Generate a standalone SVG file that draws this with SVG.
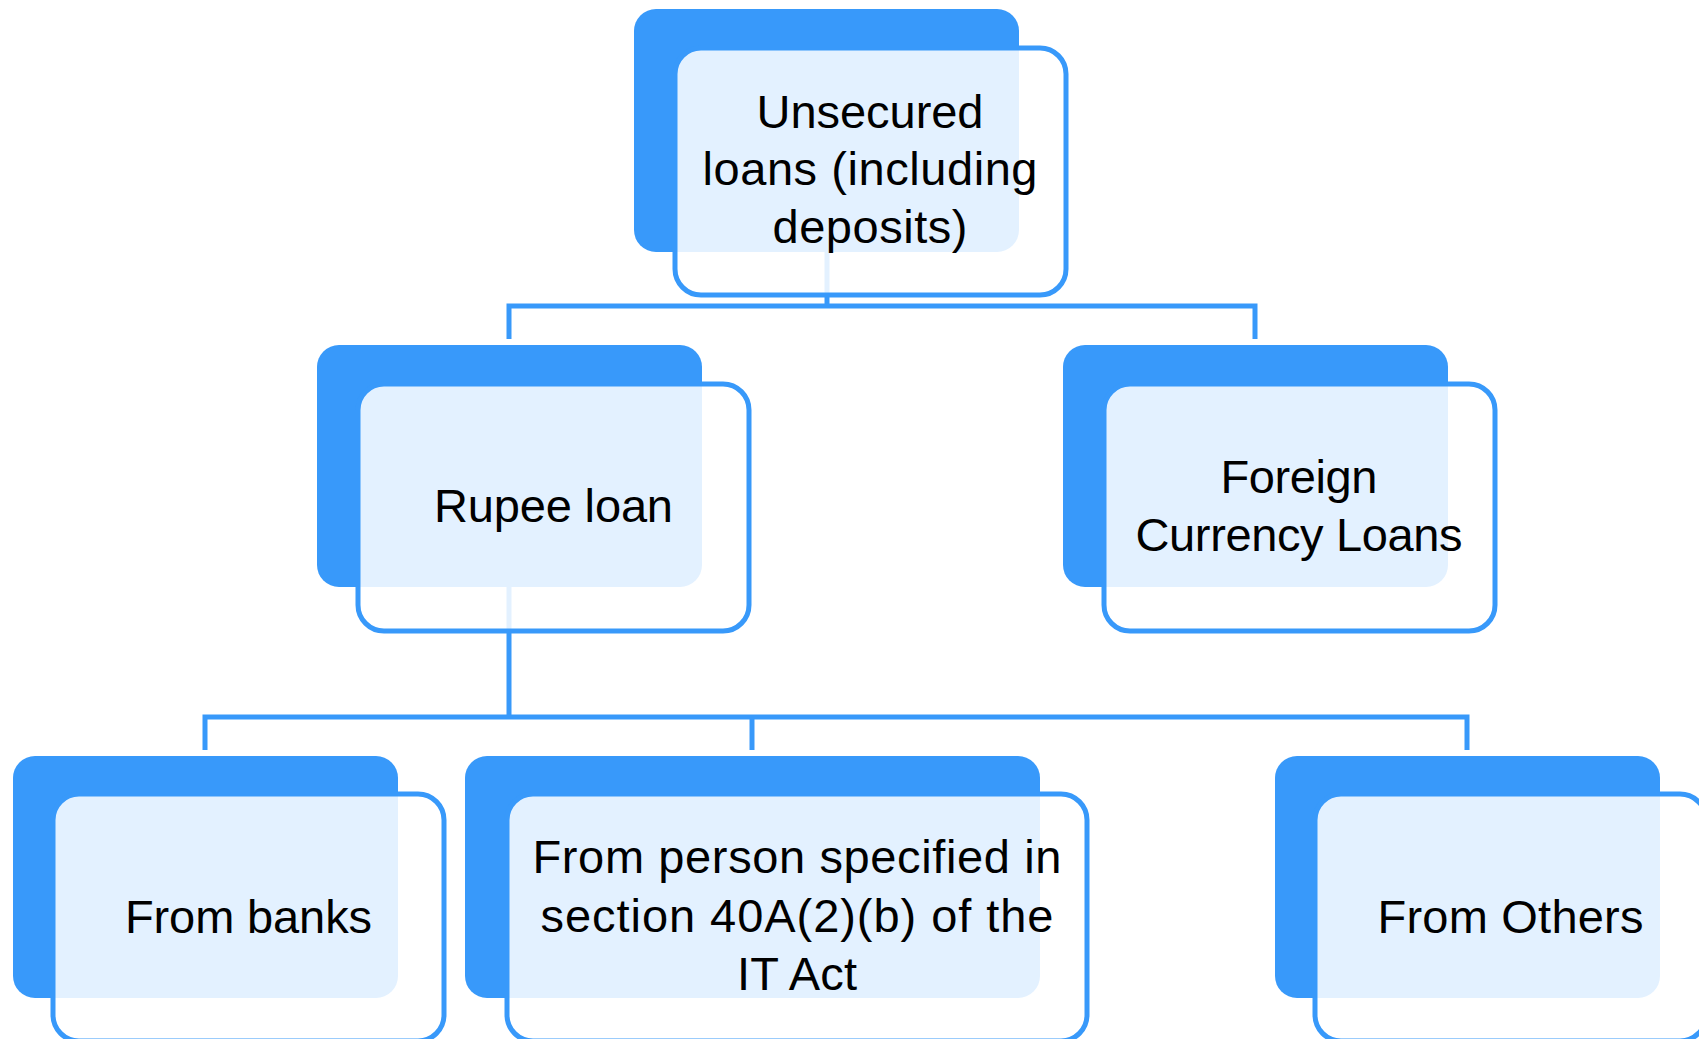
<svg xmlns="http://www.w3.org/2000/svg" width="1699" height="1039" viewBox="0 0 1699 1039">
<style>
.back{fill:#3899FA;}
.front{fill:#FFFFFF;fill-opacity:0.86;stroke:#3899FA;stroke-width:5;}
.conn{fill:none;stroke:#3899FA;stroke-width:5;stroke-linejoin:miter;}
.lbl{font-family:"Liberation Sans",Arial,sans-serif;font-size:47px;fill:#000;text-anchor:middle;}
</style>
<rect width="1699" height="1039" fill="#FFFFFF"/>
<g id="connectors">
<path class="conn" d="M827,252 V306"/>
<path class="conn" d="M509,339 V306 H1255 V339"/>
<path class="conn" d="M509,587 V717"/>
<path class="conn" d="M205,750 V717 H1467 V750"/>
<path class="conn" d="M752,717 V750"/>
</g>
<g id="node-unsecured">
<rect class="back" x="634" y="9" width="385" height="243" rx="22"/>
<rect class="front" x="675" y="48" width="391" height="247" rx="26"/>
<text class="lbl"><tspan x="870" y="128" textLength="227">Unsecured</tspan><tspan x="870" y="185" textLength="335">loans (including</tspan><tspan x="870" y="243" textLength="195">deposits)</tspan></text>
</g>
<g id="node-rupee">
<rect class="back" x="317" y="345" width="385" height="242" rx="22"/>
<rect class="front" x="358" y="384" width="391" height="247" rx="26"/>
<text class="lbl" x="553.5" y="522" textLength="239">Rupee loan</text>
</g>
<g id="node-foreign">
<rect class="back" x="1063" y="345" width="385" height="242" rx="22"/>
<rect class="front" x="1104" y="384" width="391" height="247" rx="26"/>
<text class="lbl"><tspan x="1299" y="493" textLength="157">Foreign</tspan><tspan x="1299" y="551" textLength="327">Currency Loans</tspan></text>
</g>
<g id="node-banks">
<rect class="back" x="13" y="756" width="385" height="242" rx="22"/>
<rect class="front" x="53" y="794" width="391" height="247" rx="26"/>
<text class="lbl" x="248.5" y="933" textLength="247">From banks</text>
</g>
<g id="node-person">
<rect class="back" x="465" y="756" width="575" height="242" rx="22"/>
<rect class="front" x="507" y="794" width="580" height="247" rx="26"/>
<text class="lbl"><tspan x="797" y="873" textLength="529">From person specified in</tspan><tspan x="797" y="932" textLength="513">section 40A(2)(b) of the</tspan><tspan x="797" y="990" textLength="120">IT Act</tspan></text>
</g>
<g id="node-others">
<rect class="back" x="1275" y="756" width="385" height="242" rx="22"/>
<rect class="front" x="1315" y="794" width="391" height="247" rx="26"/>
<text class="lbl" x="1510.5" y="933" textLength="266">From Others</text>
</g>
</svg>
